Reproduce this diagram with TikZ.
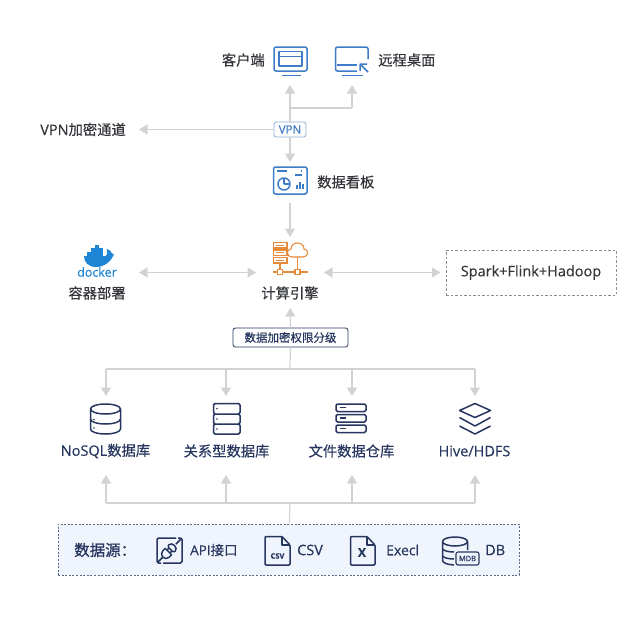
\documentclass[tikz,border=0pt]{standalone}
\usepackage{fontspec}
\setmainfont[FakeBold=0.25]{Open Sans}
\newfontfamily\cjk[FakeBold=0.35]{Noto Sans CJK SC}
\newfontfamily\cjkheavy[FakeBold=0.9]{Noto Sans CJK SC}
\usetikzlibrary{arrows.meta}
\definecolor{iconblue}{HTML}{3F7CC8}
\definecolor{iconnavy}{HTML}{26365F}
\definecolor{iconorange}{HTML}{E88A3C}
\definecolor{dockerblue}{HTML}{1F86D6}
\definecolor{linkgray}{HTML}{D2D2D2}
\definecolor{textdark}{HTML}{33353A}
\definecolor{srcfill}{HTML}{F0F4FC}
\tikzset{
  link/.style={draw=linkgray,line width=1.2pt},
  arr/.style={link,-{Triangle[width=10pt,length=8.5pt]}},
  dblarr/.style={link,{Triangle[width=10pt,length=8.5pt]}-{Triangle[width=10pt,length=8.5pt]}},
  holder/.style={inner sep=0pt,outer sep=0pt},
  lbl/.style={inner sep=0pt,text=textdark,font=\fontsize{14.5}{16}\selectfont},
  cjklbl/.style={lbl,font=\cjk\fontsize{14.3}{16}\selectfont},
  storelbl/.style={lbl,text=iconnavy},
  srclbl/.style={lbl,anchor=west,text=iconnavy},
  blueicon/.style={draw=iconblue,line width=1.5pt,line join=round},
  navyicon/.style={draw=iconnavy,line width=1.5pt,line join=round},
  orangeicon/.style={draw=iconorange,line width=1.1pt},
}
\begin{document}
\begin{tikzpicture}[x=1pt,y=-1pt]
\useasboundingbox (0,0) rectangle (640,641);
%---- holders of the pictures, connectors stop on their borders
\node[holder,minimum width=36pt,minimum height=50pt] (client) at (290,60) {};
\node[holder,minimum width=36pt,minimum height=50pt] (remote) at (352,60) {};
\node[holder,minimum width=36pt,minimum height=37pt] (board) at (290,180.5) {};
\node[holder,minimum width=68pt,minimum height=71pt] (engine) at (290,272.5) {};
\node[holder,minimum width=84pt,minimum height=60pt] (docker) at (97,272.5) {};
\node[holder,minimum width=30pt,minimum height=79pt] (nosql) at (106,435.5) {};
\node[holder,minimum width=30pt,minimum height=79pt] (rdb) at (226,435.5) {};
\node[holder,minimum width=30pt,minimum height=79pt] (filedb) at (352,435.5) {};
\node[holder,minimum width=30pt,minimum height=79pt] (hive) at (475,435.5) {};
%---- boxes
\node[draw=iconblue!60,fill=white,rounded corners=2.5pt,line width=.8pt,minimum width=32pt,minimum height=15pt,inner sep=0pt,text=iconblue,font=\fontsize{11.5}{12}\selectfont] (vpn) at (290,129.5) {VPN};
\node[lbl,anchor=east] (tunnel) at (126,129.5) {VPN{\cjk\fontsize{14.3}{16}\selectfont 加密通道}};
\node[draw=iconnavy,fill=white,rounded corners=2.5pt,line width=.8pt,minimum width=115pt,minimum height=19pt,inner sep=0pt,text=iconnavy,font=\cjk\fontsize{11.5}{13}\selectfont] (acl) at (290.5,337.5) {数据加密权限分级};
\node[draw=gray!90,dash pattern=on 2.5pt off 2pt,line width=.7pt,minimum width=170pt,minimum height=45pt,inner sep=0pt,text=textdark,font=\fontsize{14.5}{16}\selectfont] (spark) at (531,272.5) {Spark+Flink+Hadoop};
\node[draw=iconnavy!75,dash pattern=on 2pt off 1.6pt,line width=.7pt,fill=srcfill,minimum width=461pt,minimum height=51pt,inner sep=0pt] (source) at (288.5,549.5) {};
%---- connectors
\coordinate (fork) at (290,108);
\coordinate (topbus) at (290,369);
\coordinate (lowbus) at (290,503);
\draw[arr] (vpn) -- (client);
\draw[link] (fork) -- (remote.center |- fork);
\draw[arr] (remote.center |- fork) -- (remote);
\draw[arr] (vpn) -- (tunnel.east -| 139,0);
\draw[arr] (vpn) -- (board);
\draw[arr,shorten <=4pt] (board) -- (engine);
\draw[dblarr] (docker) -- (engine);
\draw[dblarr,shorten >=5pt] (engine) -- (spark);
\draw[arr] (acl) -- (engine);
\draw[link] (acl) -- (topbus);
\draw[link] (nosql |- topbus) -- (hive |- topbus);
\draw[link] (source) -- (lowbus);
\draw[link] (nosql |- lowbus) -- (hive |- lowbus);
\foreach \store in {nosql,rdb,filedb,hive}{
  \draw[arr] (\store |- topbus) -- (\store);
  \draw[arr] (\store |- lowbus) -- (\store);
}
%---- client
\draw[blueicon,rounded corners=2pt] (274,47) rectangle (307,71);
\draw[blueicon,line width=1.1pt] (279,51.5) rectangle (302,66) (279,56.5) -- (302,56.5);
\draw[blueicon] (282,75.5) -- (301,75.5);
\node[cjklbl,anchor=east] (clientlbl) at (265,60) {客户端};
%---- remote desktop
\draw[blueicon,rounded corners=2pt] (368,59) -- (368,47) -- (335.5,47) -- (335.5,71) -- (357,71);
\draw[blueicon] (337,65) -- (357,65) (342,75.5) -- (363,75.5);
\draw[blueicon] (368,72) -- (360,64) (360,71) -- (360,64) -- (367,64);
\node[cjklbl,anchor=west] (remotelbl) at (378,60) {远程桌面};
%---- board
\draw[blueicon,rounded corners=2pt] (273.5,167) rectangle (307,194);
\draw[blueicon,line width=1.1pt] (277,171) -- (287,171) (295,175) -- (302,175) (301,171) -- (302,171);
\draw[blueicon] (284,184) circle (6);
\draw[blueicon,line width=1.1pt] (284,184) -- (284,178) (284,184) -- (290,184);
\draw[blueicon,line width=1.1pt] (297,189) -- (297,185) (300,189) -- (300,182) (303,189) -- (303,184);
\node[cjklbl,anchor=west] (boardlbl) at (317,182) {数据看板};
%---- engine
\foreach \y in {242.5,250,257.5}{
  \draw[orangeicon] (273.5,\y) rectangle (287,\y+5.5);
  \draw[orangeicon,line width=.5pt] (276,\y+2.7) -- (284,\y+2.7);
}
\draw[orangeicon] (292,257) .. controls (286,257) and (286,249) .. (291,249) .. controls (291,241) and (304,241) .. (304,249) .. controls (309,249) and (309,257) .. (303,257) -- cycle;
\draw[orangeicon] (280,263) -- (280,269.5) (297.5,257) -- (297.5,269.5) (273,272) -- (277.5,272) (282.5,272) -- (295,272) (300,272) -- (308,272);
\draw[orangeicon] (277.5,269.5) rectangle (282.5,274.5) (295,269.5) rectangle (300,274.5);
\node[cjklbl] (enginelbl) at (290,293) {计算引擎};
%---- docker
\fill[dockerblue] (84,256) -- (106,256) .. controls (108,253) and (107,251) .. (106.5,249) .. controls (109,249) and (111,251) .. (112,253.5) -- (114,254) .. controls (111,262) and (104,267) .. (96,267) .. controls (88,267) and (84,262) .. (84,256) -- cycle;
\foreach \cx/\cy in {87/252,91/252,95/252,99/252,91/248,95/248,99/248,95/244.5}
  \fill[dockerblue] (\cx,\cy) rectangle (\cx+3.5,\cy+3.5);
\node[inner sep=0pt,text=dockerblue,font=\fontsize{12.5}{13}\selectfont] (dockertxt) at (97,272) {docker};
\node[cjklbl] (dockerlbl) at (97,293) {容器部署};
%---- nosql
\begin{scope}[navyicon]
\draw (90.5,409) arc (180:360:15 and 5) -- (120.5,429) arc (0:180:15 and 5) -- cycle;
\draw (90.5,409) arc (180:0:15 and 5);
\draw (90.5,419) arc (180:0:15 and 5);
\fill[iconnavy] (94,419.5) circle (.9) (94,428) circle (.9);
%---- relational
\draw[rounded corners=1.5pt] (213.5,403.5) rectangle (240,414) (213.5,414) rectangle (240,424) (213.5,424) rectangle (240,434);
\fill[iconnavy] (217,408.5) circle (.9) (217,419) circle (.9) (217,429) circle (.9);
%---- file store
\draw[rounded corners=1.5pt] (336,404) rectangle (366,411.5) (336,414.5) rectangle (366,422) (336,425) rectangle (366,432.5);
\draw (339.5,407.7) -- (346,407.7) (339.5,418.2) -- (346,418.2) (339.5,428.7) -- (346,428.7);
%---- hive
\draw (475,403.5) -- (490.5,410.5) -- (475,417.5) -- (459.5,410.5) -- cycle;
\draw (459.5,417.5) -- (475,426) -- (490.5,417.5);
\draw (459.5,426) -- (475,434) -- (490.5,426);
\end{scope}
\node[storelbl] (nosqllbl) at (105.5,451) {NoSQL{\cjk\fontsize{14.3}{16}\selectfont 数据库}};
\node[storelbl,font=\cjk\fontsize{14.3}{16}\selectfont] (rdblbl) at (226.5,451) {关系型数据库};
\node[storelbl,font=\cjk\fontsize{14.3}{16}\selectfont] (filedblbl) at (351.5,451) {文件数据仓库};
\node[storelbl] (hivelbl) at (474.5,451) {Hive/HDFS};
%---- sources
\node[srclbl,font=\cjkheavy\fontsize{15.5}{18}\selectfont] (srclbl) at (74,550) {数据源：};
\begin{scope}[navyicon]
\draw[rounded corners=1.5pt] (161,563) -- (157,563) -- (157,538) -- (176,538);
\draw[rounded corners=1.5pt] (178,538) -- (182,538) -- (182,563) -- (163,563);
\draw (158,562) -- (163,557) (176,544) -- (181,539);
\begin{scope}[shift={(169.5,550.5)},rotate=45]
\draw (-1.5,-4.5) -- (-5,-4.5) arc (270:90:4.5) -- (-1.5,4.5) -- cycle;
\draw[rounded corners=1.5pt] (1.5,-4.5) -- (5,-4.5) -- (7,-2) -- (7,2) -- (5,4.5) -- (1.5,4.5) -- cycle;
\draw (-1.5,-2) -- (1.5,-2) (-1.5,2) -- (1.5,2);
\end{scope}
%---- csv
\draw[rounded corners=1pt] (282,536.5) -- (265,536.5) -- (265,565) -- (290,565) -- (290,545) -- cycle;
\draw (282,536.5) -- (282,545) -- (290,545);
%---- x
\draw[rounded corners=1pt] (367,536.5) -- (350.5,536.5) -- (350.5,565) -- (375,565) -- (375,545) -- cycle;
\draw (367,536.5) -- (367,545) -- (375,545);
%---- db
\draw (442.5,541.5) arc (180:360:12.5 and 4.5) -- (467.5,550);
\draw (442.5,541.5) arc (180:0:12.5 and 4.5);
\draw (442.5,541.5) -- (442.5,560) .. controls (442.5,563) and (447,564.5) .. (454,565);
\draw (442.5,549) .. controls (444,551) and (449,552) .. (454,552);
\draw (442.5,556) .. controls (444,558) and (449,559) .. (454,559);
\draw[rounded corners=2pt,fill=srcfill,line width=1.1pt] (456,552) rectangle (479,565);
\end{scope}
\node[inner sep=0pt,text=iconnavy,font=\bfseries\fontsize{7.5}{8}\selectfont] (csvtxt) at (277.5,556) {CSV};
\node[inner sep=0pt,text=iconnavy,font=\bfseries\fontsize{12}{12}\selectfont] (xtxt) at (362,552.5) {X};
\node[inner sep=0pt,text=iconnavy,font=\fontsize{7.5}{8}\selectfont] (mdbtxt) at (467.5,558.5) {MDB};
\node[srclbl] (apilbl) at (190,550) {\fontsize{13.5}{16}\selectfont API{\cjk 接口}};
\node[srclbl] (csvlbl) at (297,550) {\fontsize{14.5}{16}\selectfont CSV};
\node[srclbl] (execlbl) at (386,550) {\fontsize{14}{16}\selectfont Execl};
\node[srclbl] (dblbl) at (485,550) {\fontsize{14.5}{16}\selectfont DB};
\end{tikzpicture}
\end{document}
